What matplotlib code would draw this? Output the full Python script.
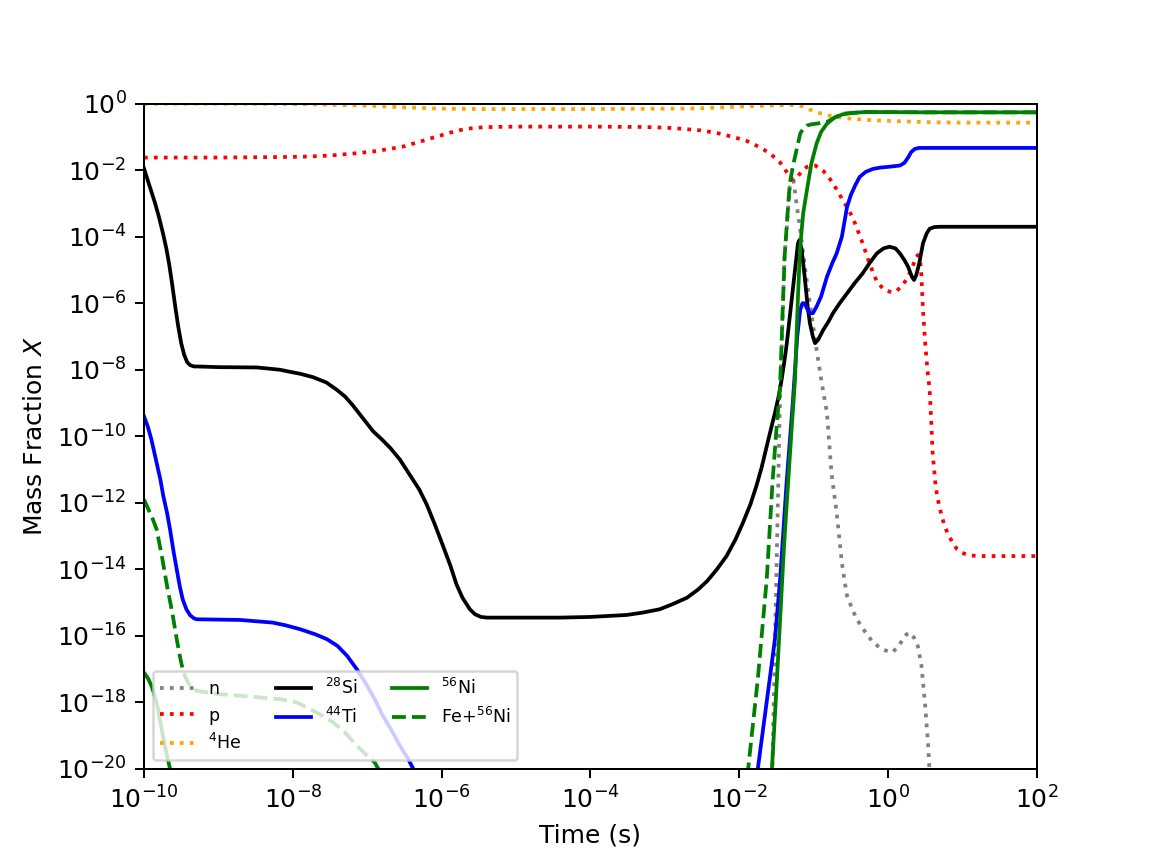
import numpy as np
import matplotlib
matplotlib.use("Agg")
import matplotlib.pyplot as plt
from matplotlib.ticker import NullLocator

# ---- data: (log10 time [s], log10 mass fraction) ----
n_pts = [(-1.6, -25), (-1.45, -8.7), (-1.39, -4.6), (-1.32, -2.5), (-1.27, -2.3), (-1.23, -3.0),
         (-1.18, -3.8), (-1.1, -5.2), (-1.05, -6.0), (-0.96, -7.4), (-0.89, -8.4), (-0.82, -9.3),
         (-0.79, -10.2), (-0.76, -11.1), (-0.69, -12.3), (-0.62, -13.8), (-0.58, -14.4),
         (-0.55, -14.8), (-0.48, -15.2), (-0.42, -15.5), (-0.3, -15.9), (-0.2, -16.2),
         (-0.08, -16.4), (0.05, -16.5), (0.13, -16.35), (0.2, -16.1), (0.25, -15.95),
         (0.29, -15.9), (0.35, -16.05), (0.4, -16.3), (0.45, -16.9), (0.5, -18.1), (0.54, -19.3),
         (0.58, -21), (0.65, -25)]

p_pts = [(-10, -1.62), (-9, -1.62), (-8.5, -1.61), (-8, -1.6), (-7.8, -1.59), (-7.6, -1.57),
         (-7.45, -1.55), (-7.3, -1.52), (-7.1, -1.48), (-6.9, -1.43), (-6.7, -1.36), (-6.5, -1.28),
         (-6.35, -1.18), (-6.2, -1.08), (-6.1, -1.01), (-6.0, -0.95), (-5.9, -0.88), (-5.8, -0.82),
         (-5.7, -0.77), (-5.6, -0.74), (-5.45, -0.71), (-5.3, -0.7), (-5.0, -0.69), (-4, -0.69),
         (-3.3, -0.7), (-3.0, -0.72), (-2.8, -0.75), (-2.53, -0.8), (-2.3, -0.88), (-2.08, -1.0),
         (-1.9, -1.12), (-1.76, -1.27), (-1.67, -1.38), (-1.59, -1.5), (-1.52, -1.62),
         (-1.45, -1.77), (-1.39, -1.95), (-1.34, -2.14), (-1.3, -2.25), (-1.27, -2.28),
         (-1.23, -2.24), (-1.19, -2.12), (-1.14, -1.98), (-1.09, -1.9), (-1.03, -1.86),
         (-0.98, -1.86), (-0.93, -1.92), (-0.87, -2.02), (-0.8, -2.2), (-0.74, -2.4),
         (-0.67, -2.65), (-0.61, -2.9), (-0.54, -3.15), (-0.47, -3.45), (-0.4, -3.85),
         (-0.34, -4.2), (-0.25, -4.8), (-0.15, -5.35), (-0.05, -5.6), (0.05, -5.67),
         (0.12, -5.62), (0.2, -5.45), (0.27, -5.2), (0.33, -4.9), (0.37, -4.65), (0.40, -4.55),
         (0.43, -4.65), (0.45, -5.2), (0.47, -6.2), (0.5, -7.2), (0.53, -8.0), (0.56, -8.6),
         (0.58, -9.5), (0.6, -10.5), (0.62, -11.0), (0.64, -11.5), (0.67, -11.9), (0.7, -12.2),
         (0.76, -12.7), (0.82, -13.0), (0.87, -13.2), (0.93, -13.4), (0.99, -13.5),
         (1.08, -13.57), (1.19, -13.6), (1.5, -13.6), (2, -13.6)]

he_pts = [(-10, 0.0), (-9, 0.0), (-8, -0.01), (-7.5, -0.03), (-7, -0.06), (-6.5, -0.11),
          (-6, -0.15), (-5.5, -0.16), (-5, -0.16), (-4, -0.16), (-3, -0.15), (-2.53, -0.14),
          (-1.9, -0.08), (-1.5, -0.05), (-1.25, -0.04), (-1.15, -0.08), (-1.05, -0.18),
          (-0.95, -0.26), (-0.82, -0.35), (-0.65, -0.41), (-0.51, -0.45), (-0.2, -0.5),
          (0.16, -0.53), (0.6, -0.56), (1, -0.57), (2, -0.57)]

si_pts = [(-10, -1.95), (-9.95, -2.3), (-9.9, -2.65), (-9.85, -3.0), (-9.8, -3.4),
          (-9.75, -3.85), (-9.7, -4.35), (-9.66, -4.85), (-9.62, -5.45), (-9.58, -6.1),
          (-9.54, -6.7), (-9.5, -7.2), (-9.46, -7.55), (-9.42, -7.77), (-9.38, -7.86),
          (-9.33, -7.9), (-9.29, -7.9),
          (-9.0, -7.92), (-8.48, -7.93), (-8.3, -7.97), (-8.17, -8.0), (-8.04, -8.06),
          (-7.9, -8.12), (-7.73, -8.22), (-7.55, -8.38), (-7.41, -8.6), (-7.3, -8.8),
          (-7.2, -9.05), (-7.06, -9.45), (-6.92, -9.85), (-6.8, -10.1), (-6.69, -10.35),
          (-6.56, -10.7), (-6.43, -11.15), (-6.3, -11.6), (-6.2, -12.05), (-6.1, -12.6),
          (-5.98, -13.3), (-5.88, -13.9), (-5.8, -14.45), (-5.72, -14.85), (-5.62, -15.2),
          (-5.55, -15.35), (-5.47, -15.43), (-5.39, -15.45), (-4.41, -15.45), (-4.0, -15.43),
          (-3.51, -15.37), (-3.3, -15.3), (-3.07, -15.2), (-2.9, -15.05), (-2.7, -14.85),
          (-2.55, -14.6), (-2.43, -14.35), (-2.3, -14.0), (-2.17, -13.6), (-2.05, -13.1),
          (-1.95, -12.6), (-1.85, -12.05), (-1.77, -11.5), (-1.7, -10.95), (-1.63, -10.3),
          (-1.57, -9.75), (-1.52, -9.3), (-1.47, -8.8), (-1.43, -8.3), (-1.39, -7.7),
          (-1.36, -7.2), (-1.32, -6.4), (-1.28, -5.6), (-1.24, -4.8), (-1.21, -4.2),
          (-1.19, -4.1), (-1.16, -4.4), (-1.12, -5.2), (-1.08, -6.1), (-1.05, -6.6),
          (-1.01, -7.0), (-0.98, -7.2), (-0.94, -7.1), (-0.87, -6.8), (-0.8, -6.55),
          (-0.74, -6.3), (-0.65, -6.0), (-0.55, -5.7), (-0.45, -5.4), (-0.34, -5.1),
          (-0.25, -4.8), (-0.15, -4.5), (-0.06, -4.35), (0.02, -4.3), (0.1, -4.35),
          (0.16, -4.5), (0.22, -4.7), (0.27, -4.9), (0.32, -5.2), (0.35, -5.3), (0.38, -5.15),
          (0.42, -4.8), (0.47, -4.2), (0.52, -3.9), (0.56, -3.76), (0.62, -3.71), (0.7, -3.7),
          (2, -3.7)]

ti_pts = [(-10, -9.4), (-9.95, -9.7), (-9.9, -10.1), (-9.83, -10.8), (-9.78, -11.3),
          (-9.74, -11.8), (-9.69, -12.3), (-9.65, -12.8), (-9.6, -13.5), (-9.56, -14.0),
          (-9.52, -14.5), (-9.48, -14.9), (-9.43, -15.2), (-9.38, -15.38), (-9.33, -15.47),
          (-9.29, -15.5), (-8.71, -15.52), (-8.27, -15.6), (-8.1, -15.68), (-7.9, -15.8),
          (-7.7, -15.95), (-7.54, -16.1), (-7.4, -16.3), (-7.27, -16.6), (-7.14, -17.0),
          (-7.0, -17.5), (-6.9, -17.9), (-6.79, -18.4), (-6.67, -18.85), (-6.56, -19.3),
          (-6.45, -19.7), (-6.38, -20.0), (-6.3, -20.4), (-4.0, -26), (-1.85, -23),
          (-1.75, -20), (-1.59, -17.3), (-1.52, -16.1), (-1.45, -14.3), (-1.36, -11.3),
          (-1.28, -9.0), (-1.22, -7.0), (-1.18, -6.2), (-1.15, -6.0), (-1.12, -6.0),
          (-1.09, -6.15), (-1.05, -6.3), (-1.01, -6.3), (-0.96, -6.1), (-0.9, -5.8),
          (-0.82, -5.2), (-0.75, -4.8), (-0.69, -4.5), (-0.62, -4.0), (-0.55, -3.1),
          (-0.5, -2.75), (-0.44, -2.45), (-0.38, -2.2), (-0.3, -2.05), (-0.2, -1.96),
          (-0.1, -1.92), (0.0, -1.9), (0.16, -1.86), (0.22, -1.78), (0.27, -1.62),
          (0.31, -1.46), (0.36, -1.36), (0.42, -1.33), (1, -1.33), (2, -1.33)]

ni_pts = [(-10, -17.1), (-9.97, -17.2), (-9.94, -17.3), (-9.9, -17.5), (-9.87, -17.7),
          (-9.82, -18.1), (-9.78, -18.6), (-9.72, -19.3), (-9.65, -20), (-9.55, -21.5),
          (-5.0, -28), (-1.7, -24), (-1.56, -20), (-1.5, -17.6), (-1.45, -15.5), (-1.4, -13.4),
          (-1.34, -11.3), (-1.29, -9.6), (-1.25, -8.3), (-1.21, -5.8), (-1.18, -4.3),
          (-1.14, -3.3), (-1.09, -2.6), (-1.03, -1.8), (-0.96, -1.2), (-0.9, -0.85),
          (-0.82, -0.6), (-0.72, -0.42), (-0.61, -0.32), (-0.45, -0.27), (-0.29, -0.25),
          (0.5, -0.26), (2, -0.26)]

fe_pts = [(-10, -11.9), (-9.94, -12.2), (-9.88, -12.5), (-9.83, -12.8), (-9.76, -13.6),
          (-9.69, -14.5), (-9.62, -15.3), (-9.56, -16.1), (-9.51, -16.7), (-9.47, -17.1),
          (-9.42, -17.35), (-9.38, -17.5), (-9.29, -17.65), (-9.0, -17.75), (-8.71, -17.8),
          (-8.17, -17.9), (-7.95, -18.0), (-7.81, -18.15), (-7.6, -18.4), (-7.46, -18.6),
          (-7.3, -18.9), (-7.14, -19.3), (-7.0, -19.6), (-6.9, -19.8), (-6.8, -20.2),
          (-4.0, -24), (-1.95, -21.5), (-1.88, -20), (-1.75, -17.3), (-1.63, -14.3),
          (-1.55, -11.3), (-1.5, -9.8), (-1.45, -8.5), (-1.42, -6.5), (-1.39, -4.6),
          (-1.35, -3.3), (-1.32, -2.4), (-1.28, -1.9), (-1.25, -1.6), (-1.21, -1.2),
          (-1.18, -0.9), (-1.14, -0.75), (-1.09, -0.66), (-1.03, -0.62), (-0.96, -0.6),
          (-0.82, -0.55), (-0.72, -0.42), (-0.61, -0.3), (-0.29, -0.25), (0.5, -0.26),
          (2, -0.26)]

labels = ["n", "p", r"$^{4}$He", r"$^{28}$Si", r"$^{44}$Ti", r"$^{56}$Ni", r"Fe+$^{56}$Ni"]
colors = ["gray", "red", "orange", "black", "blue", "green", "green"]
styles = [":", ":", ":", "-", "-", "-", "--"]
all_pts = [n_pts, p_pts, he_pts, si_pts, ti_pts, ni_pts, fe_pts]

fig, ax = plt.subplots(figsize=(6.4, 4.8), dpi=180)
for pts, lab, c, ls in zip(all_pts, labels, colors, styles):
    arr = np.array(pts, dtype=float)
    ax.plot(10.0 ** arr[:, 0], 10.0 ** arr[:, 1], color=c, ls=ls, lw=1.5, label=lab)

ax.set_xscale("log")
ax.set_yscale("log")
ax.set_xticks(10.0 ** np.arange(-10, 3, 2))
ax.set_yticks(10.0 ** np.arange(-20, 1, 2))
ax.xaxis.set_minor_locator(NullLocator())
ax.yaxis.set_minor_locator(NullLocator())
ax.set_xlim(1e-10, 1e2)
ax.set_ylim(1e-20, 1e0)
ax.set_xlabel("Time (s)")
ax.set_ylabel("Mass Fraction $X$")
ax.legend(loc="lower left", ncol=3, fontsize="x-small")

fig.savefig("out.png", dpi=180)
